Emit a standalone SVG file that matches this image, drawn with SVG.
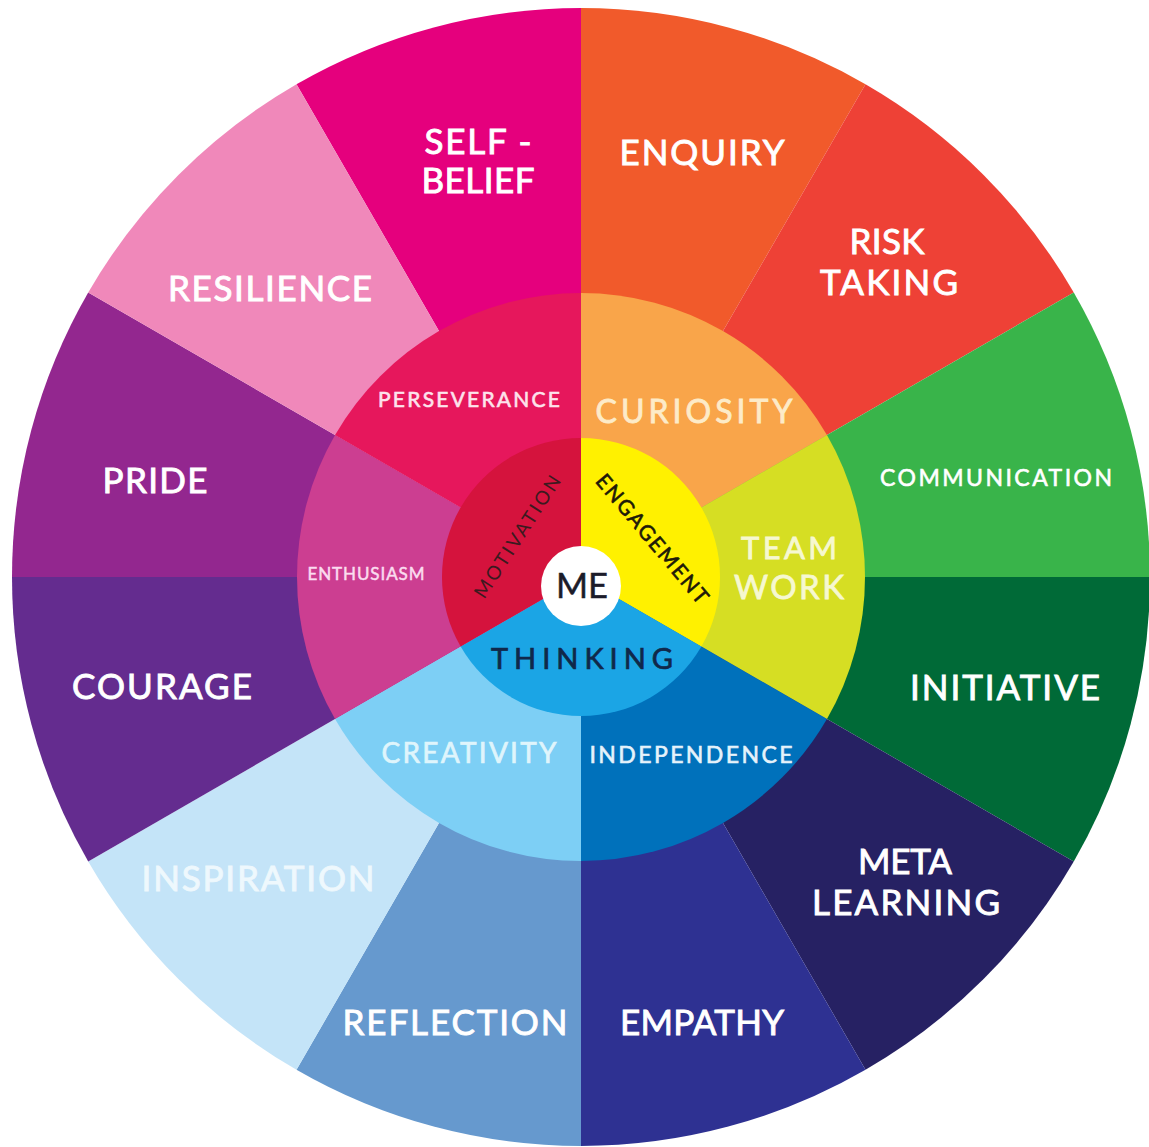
<svg xmlns="http://www.w3.org/2000/svg" width="1149" height="1147" viewBox="0 0 1149 1147">
  <style>
    text { font-family: Lato, "Open Sans", "Liberation Sans", sans-serif; text-anchor: middle; }
    .outer { font-size: 35px; fill: #ffffff; stroke: #ffffff; stroke-width: 0.9px; }
    .small { font-size: 23px; fill: #ffffff; stroke: #ffffff; stroke-width: 0.6px; }
    .pale { fill: #eef8fd; stroke: #eef8fd; }
    .dark { fill: #1c1c2a; }
  </style>
  <rect width="1149" height="1147" fill="#ffffff"/>

  <!-- outer ring: twelve 30-degree wedges, centre (581,577), r=569 -->
  <g id="outer-ring">
    <g id="self-belief"><path d="M581 577 L296.5 84.23 A569 569 0 0 1 581 8 Z" fill="#e5007d"/></g>
    <g id="enquiry"><path d="M581 577 L581 8 A569 569 0 0 1 865.5 84.23 Z" fill="#f15a2b"/></g>
    <g id="risk-taking"><path d="M581 577 L865.5 84.23 A569 569 0 0 1 1073.77 292.5 Z" fill="#ee4136"/></g>
    <g id="communication"><path d="M581 577 L1073.77 292.5 A569 569 0 0 1 1150 577 Z" fill="#39b44a"/></g>
    <g id="initiative"><path d="M581 577 L1150 577 A569 569 0 0 1 1073.77 861.5 Z" fill="#006a37"/></g>
    <g id="meta-learning"><path d="M581 577 L1073.77 861.5 A569 569 0 0 1 865.5 1069.77 Z" fill="#262163"/></g>
    <g id="empathy"><path d="M581 577 L865.5 1069.77 A569 569 0 0 1 581 1146 Z" fill="#2e3192"/></g>
    <g id="reflection"><path d="M581 577 L581 1146 A569 569 0 0 1 296.5 1069.77 Z" fill="#6699ce"/></g>
    <g id="inspiration"><path d="M581 577 L296.5 1069.77 A569 569 0 0 1 88.23 861.5 Z" fill="#c4e4f8"/></g>
    <g id="courage"><path d="M581 577 L88.23 861.5 A569 569 0 0 1 12 577 Z" fill="#642c8f"/></g>
    <g id="pride"><path d="M581 577 L12 577 A569 569 0 0 1 88.23 292.5 Z" fill="#93278f"/></g>
    <g id="resilience"><path d="M581 577 L88.23 292.5 A569 569 0 0 1 296.5 84.23 Z" fill="#f088ba"/></g>
  </g>

  <!-- middle ring: six 60-degree wedges, r=284 -->
  <g id="middle-ring">
    <g id="curiosity"><path d="M581 577 L581 293 A284 284 0 0 1 826.95 435 Z" fill="#f9a54a"/></g>
    <g id="team-work"><path d="M581 577 L826.95 435 A284 284 0 0 1 826.95 719 Z" fill="#d6de23"/></g>
    <g id="independence"><path d="M581 577 L826.95 719 A284 284 0 0 1 581 861 Z" fill="#0071bb"/></g>
    <g id="creativity"><path d="M581 577 L581 861 A284 284 0 0 1 335.05 719 Z" fill="#7dcff5"/></g>
    <g id="enthusiasm"><path d="M581 577 L335.05 719 A284 284 0 0 1 335.05 435 Z" fill="#cc3e91"/></g>
    <g id="perseverance"><path d="M581 577 L335.05 435 A284 284 0 0 1 581 293 Z" fill="#e6175c"/></g>
  </g>

  <!-- inner ring: three 120-degree wedges, r=139 -->
  <g id="inner-ring">
    <g id="engagement"><path d="M581 577 L581 438 A139 139 0 0 1 701.38 646.5 Z" fill="#fff100"/></g>
    <g id="thinking"><path d="M581 577 L701.38 646.5 A139 139 0 0 1 460.62 646.5 Z" fill="#1ba5e5"/></g>
    <g id="motivation"><path d="M581 577 L460.62 646.5 A139 139 0 0 1 581 438 Z" fill="#d5133d"/></g>
  </g>

  <!-- hub -->
  <g id="me">
    <circle cx="581" cy="586" r="40" fill="#ffffff"/>
    <text x="582" y="598" font-size="34" class="dark" stroke="#1c1c2a" stroke-width="0.5" textLength="52" lengthAdjust="spacingAndGlyphs">ME</text>
  </g>

  <!-- outer ring labels -->
  <g id="outer-labels">
    <text class="outer" x="478" y="154" textLength="107">SELF -</text>
    <text class="outer" x="478" y="193" textLength="113">BELIEF</text>
    <text class="outer" x="702" y="165" textLength="165">ENQUIRY</text>
    <text class="outer" x="887" y="254" textLength="75">RISK</text>
    <text class="outer" x="889" y="295" textLength="138">TAKING</text>
    <text class="outer" x="270" y="301" textLength="204">RESILIENCE</text>
    <text class="small" x="996" y="486" textLength="232">COMMUNICATION</text>
    <text class="outer" x="155" y="493" textLength="105">PRIDE</text>
    <text class="outer" x="1005" y="700" textLength="190">INITIATIVE</text>
    <text class="outer" x="162" y="699" textLength="180">COURAGE</text>
    <text class="outer" x="905" y="874" textLength="94">META</text>
    <text class="outer" x="906" y="915" textLength="188">LEARNING</text>
    <text class="outer pale" x="258" y="891" textLength="233">INSPIRATION</text>
    <text class="outer" x="455" y="1035" textLength="225">REFLECTION</text>
    <text class="outer" x="702" y="1035" textLength="164">EMPATHY</text>
  </g>

  <!-- middle ring labels -->
  <g id="middle-labels">
    <text x="469" y="407" font-size="21" fill="#fde3ec" stroke="#fde3ec" stroke-width="0.6" textLength="182">PERSEVERANCE</text>
    <text x="694" y="423" font-size="32" fill="#fdebc8" stroke="#fdebc8" stroke-width="0.8" textLength="197">CURIOSITY</text>
    <text x="789" y="559" font-size="31" fill="#f6f8d0" stroke="#f6f8d0" stroke-width="0.8" textLength="96">TEAM</text>
    <text x="789" y="599" font-size="33" fill="#f6f8d0" stroke="#f6f8d0" stroke-width="0.8" textLength="110">WORK</text>
    <text x="366" y="580" font-size="17" fill="#fbdcef" stroke="#fbdcef" stroke-width="0.5" textLength="117">ENTHUSIASM</text>
    <text x="469" y="763" font-size="28" fill="#dff5fc" stroke="#dff5fc" stroke-width="0.7" textLength="175">CREATIVITY</text>
    <text x="691" y="763" font-size="23" fill="#e6f3fb" stroke="#e6f3fb" stroke-width="0.6" textLength="203">INDEPENDENCE</text>
  </g>

  <!-- inner ring labels -->
  <g id="inner-labels">
    <text transform="translate(518 537) rotate(-57)" y="6" font-size="19" fill="#3b1a1f" textLength="142">MOTIVATION</text>
    <text transform="translate(652 539) rotate(50)" y="7" font-size="21" fill="#1e1a08" stroke="#1e1a08" stroke-width="0.6" textLength="162">ENGAGEMENT</text>
    <text x="582" y="669" font-size="29" fill="#10284a" stroke="#10284a" stroke-width="0.7" textLength="182">THINKING</text>
  </g>
</svg>
